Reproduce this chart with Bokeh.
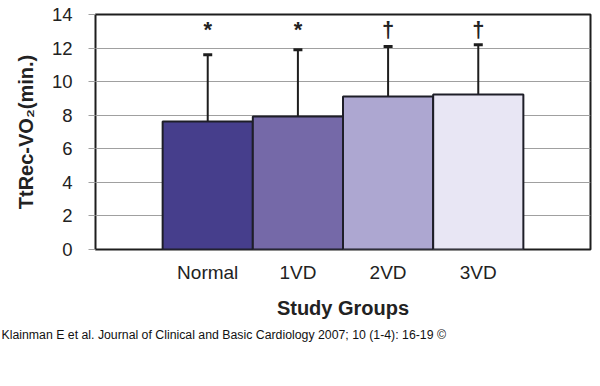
from bokeh.plotting import figure
from bokeh.models import Range1d, FixedTicker, Whisker, TeeHead, ColumnDataSource, Title
from bokeh.core.properties import value
from bokeh.embed import file_html
from bokeh.resources import INLINE

groups = ["Normal", "1VD", "2VD", "3VD"]
means = [7.62, 7.92, 9.11, 9.23]
upper = [11.6, 11.9, 12.1, 12.2]
marks = ["*", "*", "\u2020", "\u2020"]
colors = ["#463E8C", "#7569A8", "#ADA7D1", "#E8E6F4"]
y_ticks = [0, 2, 4, 6, 8, 10, 12, 14]

idx = list(range(len(groups)))
src = ColumnDataSource(dict(x=idx, top=means, upper=upper, color=colors,
                            mark=marks, my=[13.85] * len(groups)))

pad = 67 / 90
p = figure(frame_width=495, frame_height=235, output_backend="svg", toolbar_location=None,
           x_range=Range1d(-0.5 - pad, len(groups) - 0.5 + pad), y_range=Range1d(0, 14),
           min_border_left=95, min_border_right=10, min_border_top=14, min_border_bottom=137,
           background_fill_color="white", border_fill_color="white")
p.outline_line_color = "#1e1e1e"
p.outline_line_width = 2

p.vbar(x="x", top="top", width=1.0, bottom=0, fill_color="color",
       line_color="#1e1e28", line_width=2, source=src)

w = Whisker(base="x", lower="top", upper="upper", source=src, line_color="#1e1e1e",
            line_width=2, lower_head=None,
            upper_head=TeeHead(size=9, line_width=3, line_color="#1e1e1e"))
p.add_layout(w)

p.text(x="x", y="my", text="mark", source=src, text_align="center", text_baseline="top",
       text_font=value("Liberation Sans"), text_font_style="bold", text_font_size="22px",
       text_color="#222222")

# grid
p.xgrid.visible = False
p.ygrid.ticker = FixedTicker(ticks=y_ticks)
p.ygrid.grid_line_color = "#a0a0a0"
p.ygrid.grid_line_width = 1

# y axis
ya = p.yaxis[0]
ya.ticker = FixedTicker(ticks=y_ticks)
ya.axis_line_color = None
ya.major_tick_line_color = "#a0a0a0"
ya.major_tick_out = 7
ya.major_tick_in = 0
ya.minor_tick_line_color = None
ya.major_label_standoff = 16
ya.major_label_text_font = "Liberation Sans"
ya.major_label_text_font_size = "18.5px"
ya.major_label_text_color = "#222222"
ya.axis_label = "TtRec-VO\u2082(min.)"
ya.axis_label_text_font = "Liberation Sans"
ya.axis_label_text_font_style = "bold"
ya.axis_label_text_font_size = "20px"
ya.axis_label_text_color = "#222222"
ya.axis_label_standoff = 12

# x axis
xa = p.xaxis[0]
xa.ticker = FixedTicker(ticks=idx)
xa.major_label_overrides = {i: g for i, g in zip(idx, groups)}
xa.axis_line_color = None
xa.major_tick_line_color = None
xa.minor_tick_line_color = None
xa.major_label_standoff = 6
xa.major_label_text_font = "Liberation Sans"
xa.major_label_text_font_size = "19px"
xa.major_label_text_color = "#222222"
xa.axis_label = "Study Groups"
xa.axis_label_text_font = "Liberation Sans"
xa.axis_label_text_font_style = "bold"
xa.axis_label_text_font_size = "20px"
xa.axis_label_text_color = "#222222"
xa.axis_label_standoff = 11

foot = Title(text="Klainman E et al. Journal of Clinical and Basic Cardiology 2007; 10 (1-4): 16-19 \u00a9",
             align="left", offset=-94, text_font="Liberation Sans", text_font_size="12.3px",
             text_font_style="normal", text_color="#111111", standoff=9)
p.add_layout(foot, "below")

open("out.html", "w").write(file_html(p, INLINE))
